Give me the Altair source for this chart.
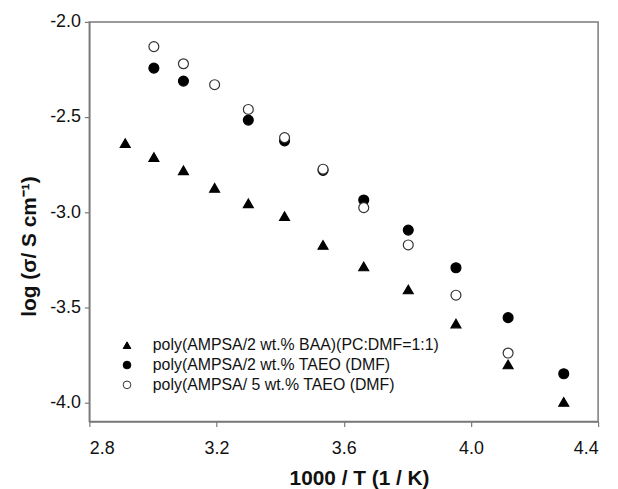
import altair as alt
import pandas as pd

series_names = [
    "poly(AMPSA/2 wt.% BAA)(PC:DMF=1:1)",
    "poly(AMPSA/2 wt.% TAEO (DMF)",
    "poly(AMPSA/ 5 wt.% TAEO (DMF)",
]

x_baa = [2.913, 3.003, 3.096, 3.194, 3.300, 3.414, 3.535, 3.663, 3.803, 3.953, 4.117, 4.292]
y_baa = [-2.637, -2.710, -2.780, -2.872, -2.953, -3.021, -3.172, -3.285, -3.406, -3.585, -3.800, -3.997]

x_taeo2 = [3.003, 3.096, 3.300, 3.414, 3.535, 3.663, 3.803, 3.953, 4.117, 4.292]
y_taeo2 = [-2.243, -2.311, -2.516, -2.625, -2.780, -2.936, -3.094, -3.292, -3.554, -3.849]

x_taeo5 = [3.003, 3.096, 3.194, 3.300, 3.414, 3.535, 3.663, 3.803, 3.953, 4.117]
y_taeo5 = [-2.130, -2.220, -2.330, -2.460, -2.608, -2.774, -2.976, -3.172, -3.436, -3.740]

x_ticks = [2.8, 3.2, 3.6, 4.0, 4.4]
y_ticks = [-2.0, -2.5, -3.0, -3.5, -4.0]

rows = []
for name, xs, ys in zip(series_names, [x_baa, x_taeo2, x_taeo5], [y_baa, y_taeo2, y_taeo5]):
    for xv, yv in zip(xs, ys):
        rows.append({"x": xv, "y": yv, "series": name})
df = pd.DataFrame(rows)

FONT = "Liberation Sans"
axis_gray = "#7a7a7a"
label_expr = "replace(format(datum.value, '.1f'), '\u2212', '-')"

legend = alt.Legend(
    title=None,
    orient="none",
    legendX=30,
    legendY=318,
    labelFontSize=16,
    labelFont=FONT,
    labelColor="#111111",
    labelLimit=500,
    symbolSize=60,
    symbolStrokeWidth=1,
    labelOffset=18,
    rowPadding=4,
    padding=0,
)

chart = (
    alt.Chart(df)
    .mark_point(filled=False, size=100, strokeWidth=1.2, opacity=1)
    .encode(
        x=alt.X(
            "x:Q",
            scale=alt.Scale(domain=[2.8, 4.4], nice=False, zero=False),
            axis=alt.Axis(
                values=x_ticks,
                labelExpr=label_expr,
                title="1000 / T (1 / K)",
                titleX=272,
                titlePadding=10,
                labelPadding=13,
            ),
        ),
        y=alt.Y(
            "y:Q",
            scale=alt.Scale(domain=[-4.1, -2.0], nice=False, zero=False),
            axis=alt.Axis(
                values=y_ticks,
                labelExpr=label_expr,
                title="log (σ/ S cm⁻¹)",
                titleY=226,
                titlePadding=10,
                labelPadding=4,
            ),
        ),
        shape=alt.Shape(
            "series:N",
            scale=alt.Scale(domain=series_names, range=["triangle-up", "circle", "circle"]),
            legend=legend,
        ),
        fill=alt.Fill(
            "series:N",
            scale=alt.Scale(domain=series_names, range=["black", "black", "white"]),
            legend=legend,
        ),
        stroke=alt.Stroke(
            "series:N",
            scale=alt.Scale(domain=series_names, range=["black", "black", "#333333"]),
            legend=legend,
        ),
    )
    .properties(
        width=513,
        height=403,
        autosize=alt.AutoSizeParams(type="none"),
        padding={"left": 82, "top": 12, "right": 12, "bottom": 66},
    )
    .configure_view(stroke=axis_gray, strokeWidth=1.5)
    .configure_axis(
        grid=False,
        domainColor=axis_gray,
        domainWidth=1.5,
        tickColor=axis_gray,
        tickWidth=1.2,
        tickSize=5,
        labelFont=FONT,
        labelFontSize=18,
        labelColor="#111111",
        titleFont=FONT,
        titleFontSize=21,
        titleFontWeight="bold",
        titleColor="#111111",
    )
)

chart.save("out.html", embed_options={"renderer": "svg", "actions": False})
